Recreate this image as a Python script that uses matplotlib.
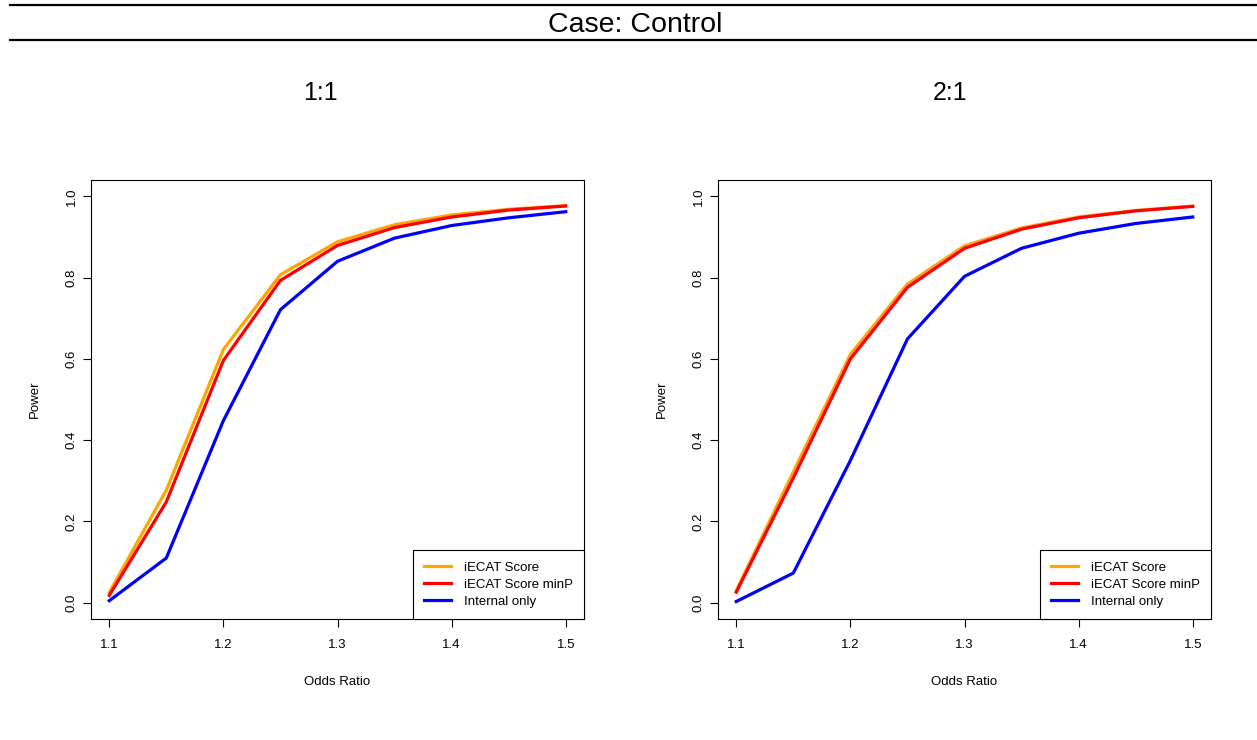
import numpy as np
import matplotlib
matplotlib.use('Agg')
import matplotlib.pyplot as plt
from matplotlib.lines import Line2D

plt.rcParams['font.family'] = ['Liberation Sans', 'DejaVu Sans']

odds_ratio = [1.10, 1.15, 1.20, 1.25, 1.30, 1.35, 1.40, 1.45, 1.50]

# 1:1 design
score_11 = [0.025, 0.277, 0.623, 0.807, 0.888, 0.930, 0.954, 0.968, 0.977]
minp_11 = [0.018, 0.248, 0.596, 0.793, 0.879, 0.923, 0.949, 0.966, 0.976]
internal_11 = [0.005, 0.110, 0.448, 0.721, 0.840, 0.897, 0.928, 0.947, 0.962]

# 2:1 design
score_21 = [0.030, 0.322, 0.611, 0.784, 0.878, 0.922, 0.949, 0.965, 0.976]
minp_21 = [0.026, 0.307, 0.600, 0.776, 0.872, 0.919, 0.947, 0.964, 0.975]
internal_21 = [0.003, 0.073, 0.350, 0.649, 0.803, 0.872, 0.909, 0.933, 0.949]

labels = ['iECAT Score', 'iECAT Score minP', 'Internal only']
colors = ['orange', 'red', 'blue']
panels = [('1:1', [score_11, minp_11, internal_11]),
          ('2:1', [score_21, minp_21, internal_21])]

fig = plt.figure(figsize=(12.57, 7.40), dpi=100)

# header band
fig.add_artist(Line2D([0.008, 1.0], [1 - 5/740, 1 - 5/740], color='black', lw=1.6))
fig.add_artist(Line2D([0.008, 1.0], [1 - 40/740, 1 - 40/740], color='black', lw=1.6))
fig.text(635/1257, 1 - 25/740, 'Case: Control', ha='center', va='center', fontsize=20.5)

lefts = [91/1257, 718/1257]
title_x = [320/1257, 950/1257]
for (title, series), left, tx in zip(panels, lefts, title_x):
    ax = fig.add_axes([left, 1 - 619/740, 493/1257, 439/740])
    for y, lab, c in zip(series, labels, colors):
        ax.plot(odds_ratio, y, color=c, lw=2.3, label=lab)
    ax.set_xlim(1.084, 1.516)
    ax.set_ylim(-0.04, 1.04)
    ax.set_xticks([1.1, 1.2, 1.3, 1.4, 1.5])
    ax.set_xticklabels(['1.1', '1.2', '1.3', '1.4', '1.5'])
    ax.set_yticks([0.0, 0.2, 0.4, 0.6, 0.8, 1.0])
    ax.set_yticklabels(['0.0', '0.2', '0.4', '0.6', '0.8', '1.0'], rotation=90, va='center')
    ax.tick_params(length=5.5, width=0.8, labelsize=9.5)
    ax.tick_params(axis='x', pad=9)
    ax.tick_params(axis='y', pad=4)
    for s in ax.spines.values():
        s.set_linewidth(0.8)
    ax.set_xlabel('Odds Ratio', fontsize=9.5, labelpad=18)
    ax.set_ylabel('Power', fontsize=9.5, labelpad=18)
    fig.text(tx, 1 - 93/740, title, ha='center', va='center', fontsize=18)
    leg = ax.legend(loc='lower right', fontsize=9.5, fancybox=False, framealpha=1,
                    edgecolor='black', borderaxespad=0, handlelength=2.0,
                    labelspacing=0.36, borderpad=0.85, handletextpad=1.0)
    leg.get_frame().set_linewidth(0.8)

fig.savefig('out.png', dpi=100)
